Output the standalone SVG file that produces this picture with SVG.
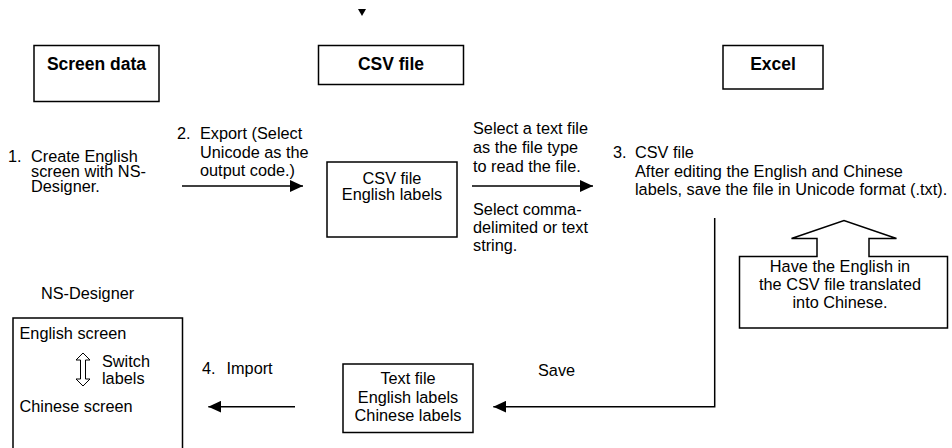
<svg xmlns="http://www.w3.org/2000/svg" width="952" height="448" viewBox="0 0 952 448">
<defs>
<style>
text{font-family:"Liberation Sans",Arial,sans-serif;font-size:16.3px;fill:#000}
.b{font-weight:bold;font-size:17.5px}
.c{text-anchor:middle}
.box{fill:#fff;stroke:#000;stroke-width:1.5}
.ln{fill:none;stroke:#000;stroke-width:1.5}
</style>
<marker id="ah" viewBox="0 0 13 12" refX="13" refY="6" markerWidth="13" markerHeight="12" markerUnits="userSpaceOnUse" orient="auto">
<path d="M0,0 L13,6 L0,12 Z" fill="#000"/>
</marker>
</defs>
<rect width="952" height="448" fill="#fff"/>
<polygon points="358,9 366,9 362,16" fill="#000"/>
<g id="screen-data">
<rect class="box" x="34" y="45.5" width="125" height="56"/>
<text class="b c" x="96.5" y="70">Screen data</text>
</g>
<g id="csv-file-header">
<rect class="box" x="318.5" y="45.5" width="145" height="39"/>
<text class="b c" x="391" y="70">CSV file</text>
</g>
<g id="excel">
<rect class="box" x="723" y="45.5" width="100" height="43.5"/>
<text class="b c" x="773" y="69.5">Excel</text>
</g>
<g id="step1">
<text><tspan x="8" y="161.5">1.</tspan><tspan x="31">Create English</tspan><tspan x="31" y="176.5">screen with NS-</tspan><tspan x="31" y="191.5">Designer.</tspan></text>
</g>
<g id="step2">
<text><tspan x="177" y="139">2.</tspan><tspan x="200">Export (Select</tspan><tspan x="200" y="157.5">Unicode as the</tspan><tspan x="200" y="176">output code.)</tspan></text>
</g>
<g id="csv-file">
<rect class="box" x="327" y="162" width="130" height="75"/>
<text class="c"><tspan x="392" y="183.5">CSV file</tspan><tspan x="392" y="199.5">English labels</tspan></text>
</g>
<g id="read-note">
<text><tspan x="473" y="134">Select a text file</tspan><tspan x="473" y="153">as the file type</tspan><tspan x="473" y="172">to read the file.</tspan></text>
<text><tspan x="473" y="215">Select comma-</tspan><tspan x="473" y="233">delimited or text</tspan><tspan x="473" y="251">string.</tspan></text>
</g>
<g id="step3">
<text><tspan x="613" y="158">3.</tspan><tspan x="635">CSV file</tspan><tspan x="635" y="176.5">After editing the English and Chinese</tspan><tspan x="635" y="195">labels, save the file in Unicode format (.txt).</tspan></text>
</g>
<g id="translate-callout">
<path class="box" d="M739.5,256.5 L817,256.5 L817,238.5 L791.5,238.5 L844,220.5 L896.5,238.5 L869,238.5 L869,256.5 L947.5,256.5 L947.5,328 L739.5,328 Z"/>
<text class="c"><tspan x="840" y="271.5">Have the English in</tspan><tspan x="840" y="290">the CSV file translated</tspan><tspan x="840" y="307.5">into Chinese.</tspan></text>
</g>
<g id="ns-designer">
<text x="41" y="299">NS-Designer</text>
<path class="ln" d="M13,452 L13,318 L182.5,318 L182.5,452"/>
<text x="19.5" y="339">English screen</text>
<path fill="#fff" stroke="#000" stroke-width="1" d="M83,353 L90,360 L85.5,360 L85.5,379 L90,379 L83,386 L76,379 L80.5,379 L80.5,360 L76,360 Z"/>
<text><tspan x="102" y="366.5">Switch</tspan><tspan x="102" y="384">labels</tspan></text>
<text x="19.5" y="412">Chinese screen</text>
</g>
<g id="step4">
<text><tspan x="202" y="374">4.</tspan><tspan x="226.5">Import</tspan></text>
</g>
<g id="text-file">
<rect class="box" x="343" y="364" width="130" height="68.5"/>
<text class="c"><tspan x="408" y="384">Text file</tspan><tspan x="408" y="402.5">English labels</tspan><tspan x="408" y="421">Chinese labels</tspan></text>
</g>
<text x="538" y="375.5">Save</text>
<g id="connectors">
<line class="ln" x1="182" y1="186" x2="303" y2="186" marker-end="url(#ah)"/>
<line class="ln" x1="472" y1="186" x2="593" y2="186" marker-end="url(#ah)"/>
<polyline class="ln" points="714.7,218 714.7,406.7 493.3,406.7" marker-end="url(#ah)"/>
<line class="ln" x1="295" y1="406.7" x2="208.3" y2="406.7" marker-end="url(#ah)"/>
</g>
</svg>
